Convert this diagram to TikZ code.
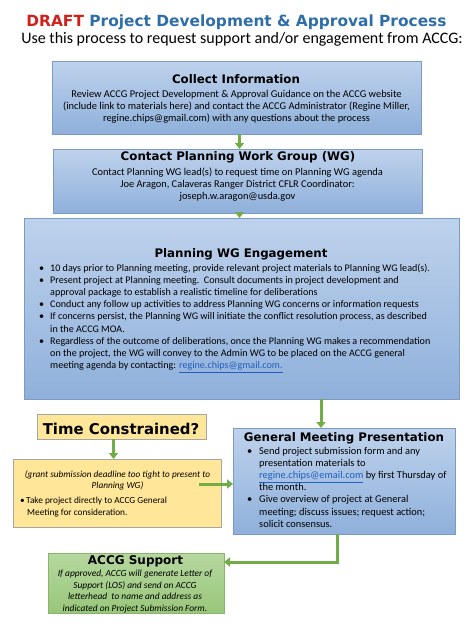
\documentclass[tikz,border=0pt]{standalone}
\usepackage{fontspec}
\setmainfont{Carlito}
\newfontfamily\hfont{DejaVu Sans}
\usetikzlibrary{arrows.meta}
\definecolor{titleblue}{HTML}{2E6DA8}
\definecolor{draftred}{HTML}{D0201C}
\definecolor{boxtop}{HTML}{BED2EC}
\definecolor{boxbot}{HTML}{8FB0DB}
\definecolor{boxline}{HTML}{7C9BC4}
\definecolor{yel}{HTML}{FFE699}
\definecolor{yelline}{HTML}{A5A5A5}
\definecolor{grtop}{HTML}{B6D89F}
\definecolor{grbot}{HTML}{98C67A}
\definecolor{grline}{HTML}{8AB66B}
\definecolor{arrowgreen}{HTML}{70AD47}
\definecolor{linkblue}{HTML}{1F5FBF}
\newcommand\bul[1][11pt]{\makebox[#1][l]{\textbullet}}
\newcommand\hind[1][11pt]{\hspace*{#1}}
\newcommand\lnk[1]{\textcolor{linkblue}{\underline{#1}}}
\tikzset{
  boxbase/.style={anchor=north west, inner sep=0pt, outer sep=0pt, line width=0.8pt},
  bluebox/.style={boxbase, draw=boxline, top color=boxtop, bottom color=boxbot},
  yelbox/.style={boxbase, draw=yelline, fill=yel},
  grbox/.style={boxbase, draw=grline, top color=grtop, bottom color=grbot},
  flow/.style={draw=arrowgreen, line width=3pt, -{Triangle[width=9pt,length=6pt]}},
  head/.style={anchor=base, inner sep=0pt, font=\hfont\bfseries\fontsize{11.8}{14}\selectfont},
  body/.style={anchor=base, inner sep=0pt, align=center, font=\fontsize{10.4}{12.2}\selectfont},
  blist/.style={anchor=base west, inner sep=0pt, align=left, font=\fontsize{10.1}{12.2}\selectfont},
}
\begin{document}
\begin{tikzpicture}[x=1pt,y=-1pt]
\useasboundingbox (0,0) rectangle (474,632);
% title
\node[anchor=base, inner sep=0pt, font=\hfont\bfseries\fontsize{15.4}{18}\selectfont] (title) at (236.5,26.5)
  {\textcolor{draftred}{DRAFT} \textcolor{titleblue}{Project Development \& Approval Process}};
\node[anchor=base, inner sep=0pt, font=\fontsize{16}{19}\selectfont] (sub) at (242,43.5)
  {Use this process to request support and/or engagement from ACCG:};
% boxes
\node[bluebox, minimum width=369pt, minimum height=73pt] (b1) at (52,61) {};
\node[bluebox, minimum width=369pt, minimum height=64pt] (b2) at (53,149) {};
\node[bluebox, minimum width=435pt, minimum height=181pt] (b3) at (24,218) {};
\node[yelbox, minimum width=169pt, minimum height=25pt] (tc) at (37,414) {};
\node[yelbox, minimum width=208pt, minimum height=68pt] (yb) at (13,459) {};
\node[bluebox, minimum width=222pt, minimum height=106pt] (gm) at (233,428) {};
\node[grbox, minimum width=176pt, minimum height=60pt] (sup) at (48,553) {};
% box 1 text (base = last line)
\node[head] (h1) at (236,83.3) {Collect Information};
\node[body] (t1) at (236.5,121.9) {Review ACCG Project Development \& Approval Guidance on the ACCG website\\
(include link to materials here) and contact the ACCG Administrator (Regine Miller,\\
regine.chips@gmail.com) with any questions about the process};
% box 2 text
\node[head] (h2) at (238,160.7) {Contact Planning Work Group (WG)};
\node[body] (t2) at (237.5,199.4) {Contact Planning WG lead(s) to request time on Planning WG agenda\\
Joe Aragon, Calaveras Ranger District CFLR Coordinator:\\
joseph.w.aragon@usda.gov};
% box 3 text
\node[head] (h3) at (241,257) {Planning WG Engagement};
\node[blist] (t3) at (39,368.6) {%
\bul 10 days prior to Planning meeting, provide relevant project materials to Planning WG lead(s).\\
\bul Present project at Planning meeting.\ \ Consult documents in project development and\\
\hind approval package to establish a realistic timeline for deliberations\\
\bul Conduct any follow up activities to address Planning WG concerns or information requests\\
\bul If concerns persist, the Planning WG will initiate the conflict resolution process, as described\\
\hind in the ACCG MOA.\\
\bul Regardless of the outcome of deliberations, once the Planning WG makes a recommendation\\
\hind on the project, the WG will convey to the Admin WG to be placed on the ACCG general\\
\hind meeting agenda by contacting: \lnk{regine.chips@gmail.com.}};
% time constrained
\node[head, font=\hfont\bfseries\fontsize{14.9}{17}\selectfont] (h4) at (121,434.5) {Time Constrained?};
\node[body, font=\itshape\fontsize{9.25}{11.5}\selectfont] (t4a) at (117.5,488.5) {(grant submission deadline too tight to present to\\
Planning WG)};
\node[blist, font=\fontsize{9.3}{11.5}\selectfont] (t4b) at (20,515) {%
\bul[6pt]Take project directly to ACCG General\\
\hind[7pt]Meeting for consideration.};
% general meeting
\node[head] (h5) at (344,441) {General Meeting Presentation};
\node[blist, font=\fontsize{10.4}{12.1}\selectfont] (t5) at (247,527.1) {%
\bul[12pt]Send project submission form and any\\
\hind[12pt]presentation materials to\\
\hind[12pt]\lnk{regine.chips@email.com} by first Thursday of\\
\hind[12pt]the month.\\
\bul[12pt]Give overview of project at General\\
\hind[12pt]meeting; discuss issues; request action;\\
\hind[12pt]solicit consensus.};
% support
\node[head, font=\hfont\bfseries\fontsize{12}{14}\selectfont] (h6) at (135.5,564.5) {ACCG Support};
\node[body, font=\itshape\fontsize{9.4}{11.5}\selectfont] (t6) at (135,611) {If approved, ACCG will generate Letter of\\
Support (LOS) and send on ACCG\\
letterhead\ \ to name and address as\\
indicated on Project Submission Form.};
% connectors
\draw[flow] ([xshift=3pt]b1.south) -- ([xshift=3pt]b1.south |- b2.north);
\draw[flow] ([xshift=2pt]b2.south) -- ([xshift=2pt]b2.south |- b3.north);
\draw[flow] ([xshift=-23pt]gm.north |- b3.south) -- ([xshift=-23pt]gm.north);
\draw[flow] ([xshift=-8pt]tc.south) -- ([xshift=-8pt]tc.south |- yb.north);
\coordinate (ys) at (199,484);
\draw[flow] (ys) -- (ys -| gm.west);
\draw[flow] ([xshift=-7pt]gm.south) |- ([yshift=21pt]sup.east);
\end{tikzpicture}
\end{document}
